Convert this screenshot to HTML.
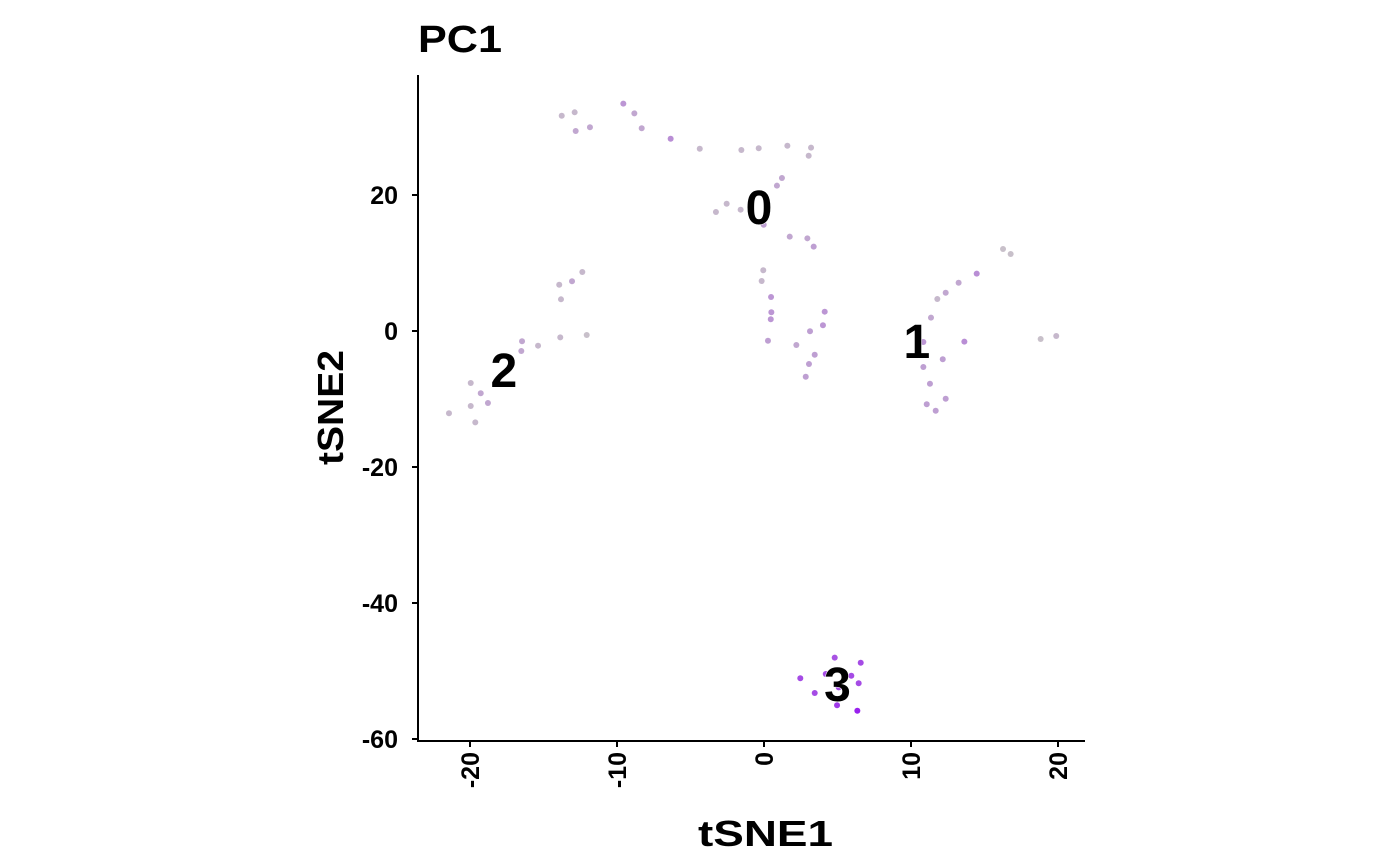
<!DOCTYPE html>
<html><head><meta charset="utf-8"><style>
html,body{margin:0;padding:0;background:#fff;}
svg{display:block;font-family:"Liberation Sans",Arial,sans-serif;font-weight:bold;}
</style></head><body>
<svg id="chart" width="1400" height="866">
<text x="418" y="52" font-size="38" textLength="84" lengthAdjust="spacingAndGlyphs">PC1</text>
<g id="axes"></g><g id="pts"></g><g id="labels"></g>
<text x="698" y="846" font-size="36" textLength="135" lengthAdjust="spacingAndGlyphs">tSNE1</text>
<text x="0" y="0" font-size="36" textLength="115" lengthAdjust="spacingAndGlyphs" transform="translate(343 465) rotate(-90)">tSNE2</text>
</svg>
<script>
const xs=[-13.76,-12.88,-12.81,-11.84,-9.57,-8.82,-8.32,-6.35,-4.37,-1.54,-0.36,1.59,3.20,3.04,1.22,0.88,-2.54,-3.27,-1.59,-0.02,1.75,2.95,3.38,-0.05,-0.16,0.48,0.50,0.46,0.27,2.2,3.13,4.01,4.13,3.45,3.06,2.84,
-12.36,-13.06,-13.93,-13.81,-12.06,-13.86,-16.46,-16.51,-15.37,-19.95,-19.27,-18.78,-19.95,-21.43,-19.64,
16.26,16.78,14.47,13.24,12.36,11.79,11.36,10.84,10.50,13.63,12.16,10.84,11.29,12.36,11.07,11.68,18.82,19.88,
4.81,6.58,2.47,4.20,5.94,6.44,5.08,3.45,4.97,6.35];
const ys=[31.66,32.16,29.41,29.96,33.43,32.01,29.81,28.28,26.81,26.62,26.87,27.25,26.96,25.78,22.5,21.37,18.72,17.5,17.84,15.63,13.87,13.63,12.4,8.93,7.35,5.0,2.75,1.72,-1.43,-2.06,-0.04,0.84,2.84,-3.49,-4.85,-6.72,
8.68,7.31,6.81,4.66,-0.59,-0.93,-1.51,-2.94,-2.16,-7.65,-9.16,-10.59,-11.03,-12.10,-13.43,
12.06,11.32,8.43,7.10,5.63,4.71,1.96,-1.62,-2.9,-1.57,-4.16,-5.29,-7.75,-9.96,-10.78,-11.72,-1.18,-0.74,
-48.04,-48.78,-51.07,-50.44,-50.69,-51.81,-52.40,-53.24,-55.04,-55.84];
const pc1=[0.05,0.05,0.15,0.15,0.25,0.15,0.15,0.3,0.05,0.05,0.05,0.05,0.05,0.05,0.15,0.15,0.05,0.05,0.05,0.2,0.15,0.15,0.2,0.05,0.05,0.25,0.25,0.25,0.2,0.15,0.2,0.25,0.25,0.2,0.2,0.2,
0.05,0.15,0.05,0.05,0.0,0.05,0.15,0.15,0.05,0.05,0.15,0.15,0.05,0.05,0.05,
0.0,0.0,0.3,0.15,0.15,0.05,0.15,0.25,0.15,0.3,0.2,0.2,0.2,0.2,0.2,0.2,0.0,0.05,
0.65,0.7,0.7,0.7,0.7,0.7,0.7,0.7,0.8,0.95];
const clusterNames=["0","1","2","3"];
const clusterX=[-0.34,10.4,-17.7,5.0];
const clusterY=[18.2,-1.5,-5.7,-51.9];
const xTicks=[-20,-10,0,10,20];
const yTicks=[20,0,-20,-40,-60];

const NS="http://www.w3.org/2000/svg";
const sx=v=>764+v*14.7, sy=v=>331-v*6.8;
function col(t){const a=[200,192,202],b=[150,25,240];return `rgb(${a.map((c,i)=>Math.round(c+(b[i]-c)*t)).join(',')})`;}
function mk(tag,at,parent){const e=document.createElementNS(NS,tag);for(const k in at)e.setAttribute(k,at[k]);parent.appendChild(e);return e;}
const ax=document.getElementById('axes');
let l=mk('line',{x1:418,y1:75,x2:418,y2:742,stroke:'#000','stroke-width':2},ax);


l=mk('line',{x1:417,y1:741,x2:1085,y2:741,stroke:'#000','stroke-width':2},ax);


xTicks.forEach(v=>{const x=sx(v);
 const t=mk('line',{x1:x,y1:741,x2:x,y2:747,stroke:'#000','stroke-width':2},ax);
 
 
 const tx=mk('text',{x:0,y:0,'font-size':25,'text-anchor':'end',transform:`translate(${x+9},752) rotate(-90)`},ax);
 tx.textContent=v;
 
 
});
yTicks.forEach(v=>{const y=sy(v);
 const t=mk('line',{x1:412,y1:y,x2:418,y2:y,stroke:'#000','stroke-width':2},ax);
 
 
 const tx=mk('text',{x:398,y:y+9,'font-size':25,'text-anchor':'end'},ax);
 tx.textContent=v;
 
 
});
const pg=document.getElementById('pts');
xs.forEach((v,i)=>{
 const c=mk('circle',{cx:sx(v),cy:sy(ys[i]),r:3,fill:col(pc1[i])},pg);
 
 
});
const lg=document.getElementById('labels');
clusterNames.forEach((n,i)=>{
 const t=mk('text',{x:sx(clusterX[i]),y:sy(clusterY[i])+17,'font-size':48,'text-anchor':'middle',stroke:'#fff','stroke-width':1,'paint-order':'stroke'},lg);
 t.textContent=n;
 
 
});
</script>
</body></html>
